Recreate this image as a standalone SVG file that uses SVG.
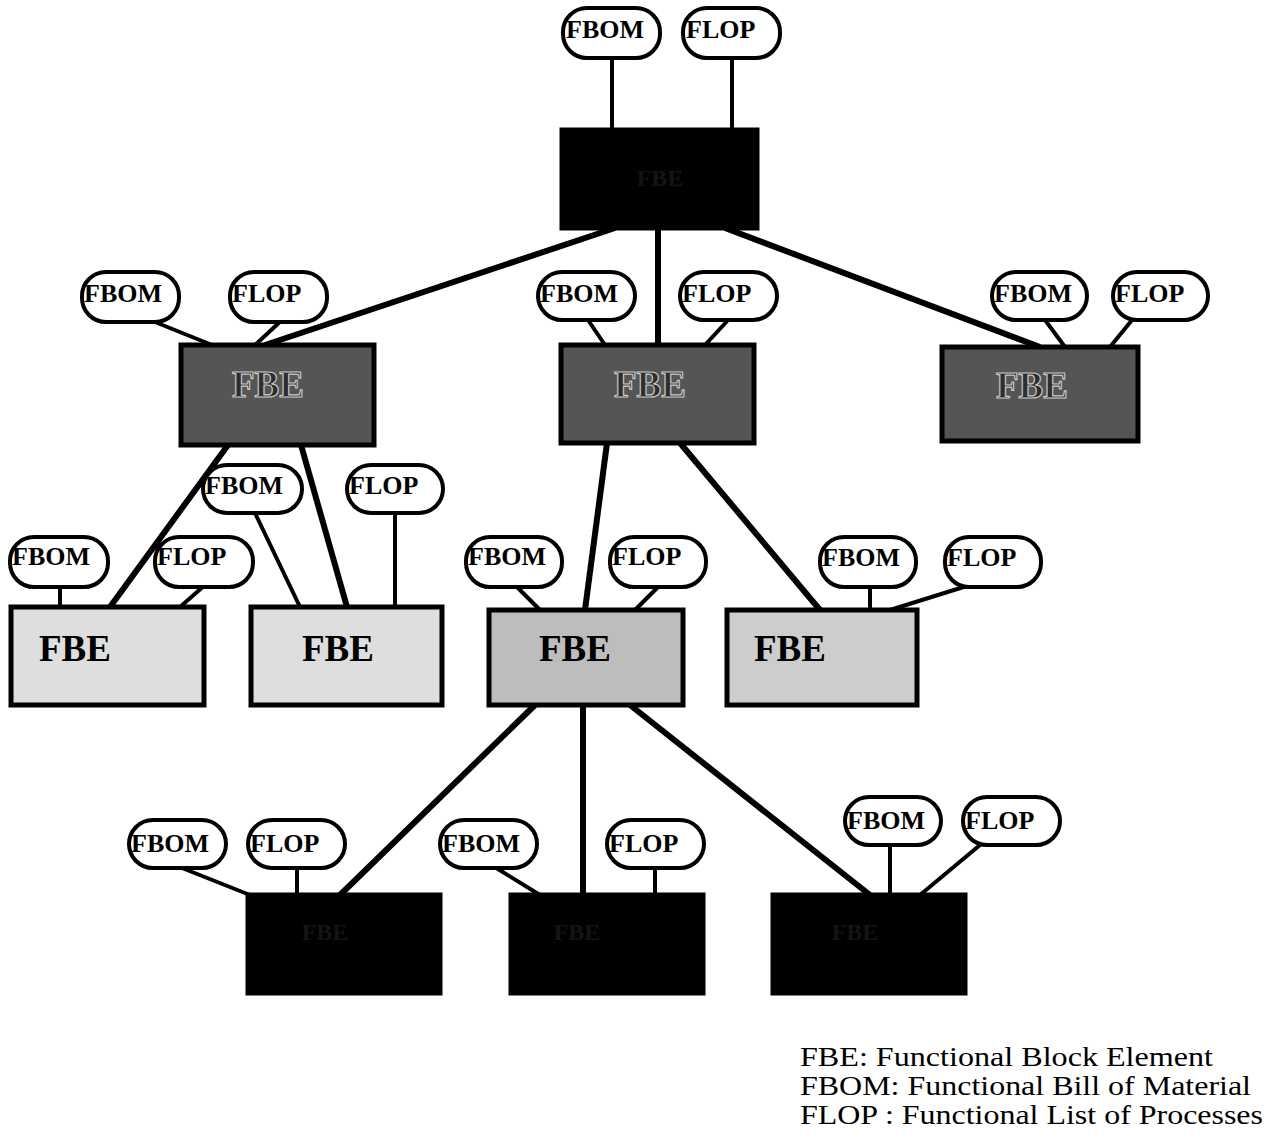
<svg xmlns="http://www.w3.org/2000/svg" width="1283" height="1139" viewBox="0 0 1283 1139">
<style>
.pill{fill:#fff;stroke:#000;stroke-width:4}
.pt{font-family:"Liberation Serif",serif;font-weight:bold;font-size:26px;fill:#000}
.box{stroke:#000;stroke-width:5}
.blk{fill:#000}
.dark{fill:#555}
.mid{fill:#bdbdbd}
.mid2{fill:#cdcdcd}
.light{fill:#dedede}
.bt{font-family:"Liberation Serif",serif;font-weight:bold;font-size:37px;text-anchor:middle}
.bt-l{fill:#000}
.bt-d{fill:#2e2e2e;stroke:#c8c8c8;stroke-width:1.2}
.bt-k{fill:#141414;font-size:24px}
.c{stroke:#000;stroke-width:6;fill:none}
.cs{stroke:#000;stroke-width:4;fill:none}
.leg{font-family:"Liberation Serif",serif;font-size:28px;fill:#000}
</style>
<g id="connectors">
<line class="cs" x1="612" y1="58" x2="612" y2="130"/>
<line class="cs" x1="732" y1="58" x2="732" y2="130"/>
<line class="c" x1="615" y1="228" x2="265" y2="345"/>
<line class="c" x1="658" y1="228" x2="658" y2="345"/>
<line class="c" x1="725" y1="228" x2="1040" y2="347"/>
<line class="cs" x1="150" y1="320" x2="212" y2="345"/>
<line class="cs" x1="282" y1="320" x2="255" y2="345"/>
<line class="cs" x1="588" y1="320" x2="605" y2="345"/>
<line class="cs" x1="730" y1="318" x2="705" y2="345"/>
<line class="cs" x1="1045" y1="320" x2="1065" y2="347"/>
<line class="cs" x1="1132" y1="320" x2="1110" y2="347"/>
<line class="c" x1="228" y1="445" x2="110" y2="607"/>
<line class="c" x1="301" y1="445" x2="347" y2="607"/>
<line class="c" x1="607" y1="443" x2="585" y2="610"/>
<line class="c" x1="680" y1="443" x2="820" y2="610"/>
<line class="cs" x1="60" y1="587" x2="60" y2="607"/>
<line class="cs" x1="205" y1="585" x2="180" y2="607"/>
<line class="cs" x1="255" y1="513" x2="300" y2="607"/>
<line class="cs" x1="395" y1="512" x2="395" y2="607"/>
<line class="cs" x1="515" y1="585" x2="540" y2="610"/>
<line class="cs" x1="660" y1="585" x2="635" y2="610"/>
<line class="cs" x1="870" y1="587" x2="870" y2="610"/>
<line class="cs" x1="970" y1="585" x2="890" y2="610"/>
<line class="c" x1="535" y1="705" x2="340" y2="895"/>
<line class="c" x1="583" y1="705" x2="583" y2="895"/>
<line class="c" x1="630" y1="705" x2="870" y2="895"/>
<line class="cs" x1="177" y1="866" x2="250" y2="895"/>
<line class="cs" x1="297" y1="866" x2="297" y2="895"/>
<line class="cs" x1="493" y1="866" x2="540" y2="895"/>
<line class="cs" x1="655" y1="866" x2="655" y2="895"/>
<line class="cs" x1="890" y1="845" x2="890" y2="895"/>
<line class="cs" x1="980" y1="845" x2="920" y2="895"/>
</g>
<g id="pills">
<g id="p-top-fbom"><rect class="pill" x="563" y="8" width="97" height="50" rx="24"/><text class="pt" x="566" y="38">FBOM</text></g>
<g id="p-top-flop"><rect class="pill" x="683" y="8" width="97" height="50" rx="24"/><text class="pt" x="686" y="38">FLOP</text></g>
<g id="p-l2-fbom"><rect class="pill" x="82" y="272" width="97" height="50" rx="24"/><text class="pt" x="84" y="302">FBOM</text></g>
<g id="p-l2-flop"><rect class="pill" x="230" y="272" width="97" height="50" rx="24"/><text class="pt" x="232" y="302">FLOP</text></g>
<g id="p-m2-fbom"><rect class="pill" x="538" y="272" width="97" height="48" rx="24"/><text class="pt" x="540" y="302">FBOM</text></g>
<g id="p-m2-flop"><rect class="pill" x="680" y="272" width="97" height="48" rx="24"/><text class="pt" x="682" y="302">FLOP</text></g>
<g id="p-r2-fbom"><rect class="pill" x="992" y="272" width="95" height="48" rx="24"/><text class="pt" x="994" y="302">FBOM</text></g>
<g id="p-r2-flop"><rect class="pill" x="1113" y="272" width="95" height="48" rx="24"/><text class="pt" x="1115" y="302">FLOP</text></g>
<g id="p-a3-fbom"><rect class="pill" x="10" y="537" width="98" height="50" rx="24"/><text class="pt" x="12" y="565">FBOM</text></g>
<g id="p-a3-flop"><rect class="pill" x="155" y="537" width="98" height="50" rx="24"/><text class="pt" x="157" y="565">FLOP</text></g>
<g id="p-b3-fbom"><rect class="pill" x="203" y="465" width="99" height="48" rx="24"/><text class="pt" x="205" y="494">FBOM</text></g>
<g id="p-b3-flop"><rect class="pill" x="347" y="465" width="96" height="48" rx="24"/><text class="pt" x="349" y="494">FLOP</text></g>
<g id="p-c3-fbom"><rect class="pill" x="466" y="537" width="96" height="50" rx="24"/><text class="pt" x="468" y="565">FBOM</text></g>
<g id="p-c3-flop"><rect class="pill" x="610" y="537" width="96" height="50" rx="24"/><text class="pt" x="612" y="565">FLOP</text></g>
<g id="p-d3-fbom"><rect class="pill" x="820" y="537" width="96" height="50" rx="24"/><text class="pt" x="822" y="566">FBOM</text></g>
<g id="p-d3-flop"><rect class="pill" x="945" y="537" width="96" height="50" rx="24"/><text class="pt" x="947" y="566">FLOP</text></g>
<g id="p-a4-fbom"><rect class="pill" x="129" y="820" width="97" height="48" rx="24"/><text class="pt" x="131" y="852">FBOM</text></g>
<g id="p-a4-flop"><rect class="pill" x="248" y="820" width="97" height="48" rx="24"/><text class="pt" x="250" y="852">FLOP</text></g>
<g id="p-b4-fbom"><rect class="pill" x="440" y="820" width="97" height="48" rx="24"/><text class="pt" x="442" y="852">FBOM</text></g>
<g id="p-b4-flop"><rect class="pill" x="607" y="820" width="97" height="48" rx="24"/><text class="pt" x="609" y="852">FLOP</text></g>
<g id="p-c4-fbom"><rect class="pill" x="845" y="797" width="96" height="48" rx="24"/><text class="pt" x="847" y="829">FBOM</text></g>
<g id="p-c4-flop"><rect class="pill" x="963" y="797" width="97" height="48" rx="24"/><text class="pt" x="965" y="829">FLOP</text></g>
</g>
<g id="n-top"><rect class="box blk" x="562" y="130" width="195" height="98"/><text class="bt bt-k" x="660" y="186">FBE</text></g>
<g id="n-l2"><rect class="box dark" x="181" y="345" width="193" height="100"/><text class="bt bt-d" x="268" y="397">FBE</text></g>
<g id="n-m2"><rect class="box dark" x="561" y="345" width="193" height="98"/><text class="bt bt-d" x="650" y="397">FBE</text></g>
<g id="n-r2"><rect class="box dark" x="942" y="347" width="196" height="94"/><text class="bt bt-d" x="1032" y="398">FBE</text></g>
<g id="n-a3"><rect class="box light" x="11" y="607" width="193" height="98"/><text class="bt bt-l" x="75" y="661">FBE</text></g>
<g id="n-b3"><rect class="box light" x="251" y="607" width="191" height="98"/><text class="bt bt-l" x="338" y="661">FBE</text></g>
<g id="n-c3"><rect class="box mid" x="489" y="610" width="194" height="95"/><text class="bt bt-l" x="575" y="661">FBE</text></g>
<g id="n-d3"><rect class="box mid2" x="727" y="610" width="190" height="95"/><text class="bt bt-l" x="790" y="661">FBE</text></g>
<g id="n-a4"><rect class="box blk" x="248" y="895" width="192" height="98"/><text class="bt bt-k" x="325" y="940">FBE</text></g>
<g id="n-b4"><rect class="box blk" x="511" y="895" width="192" height="98"/><text class="bt bt-k" x="577" y="940">FBE</text></g>
<g id="n-c4"><rect class="box blk" x="773" y="895" width="192" height="98"/><text class="bt bt-k" x="855" y="940">FBE</text></g>
<g id="legend">
<text class="leg" x="800" y="1066" textLength="413" lengthAdjust="spacingAndGlyphs">FBE: Functional Block Element</text>
<text class="leg" x="800" y="1095" textLength="451" lengthAdjust="spacingAndGlyphs">FBOM: Functional Bill of Material</text>
<text class="leg" x="800" y="1124" textLength="463" lengthAdjust="spacingAndGlyphs">FLOP : Functional List of Processes</text>
</g>
</svg>
